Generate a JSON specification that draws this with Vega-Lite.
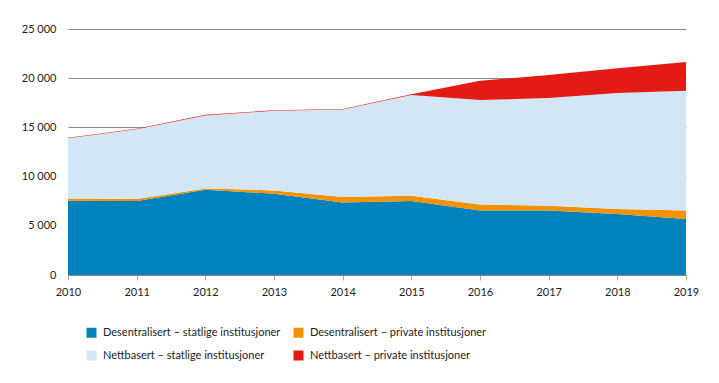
{
  "$schema": "https://vega.github.io/schema/vega-lite/v6.json",
  "width": 618,
  "height": 246,
  "autosize": {"type": "none"},
  "padding": {"left": 68, "top": 29, "right": 33, "bottom": 108},
  "config": {
    "view": {"stroke": null},
    "font": "Lato",
    "axis": {"labelFont": "Lato", "labelFontSize": 11, "labelColor": "#222", "titleFontSize": 11},
    "legend": {"labelFont": "Lato", "labelFontSize": 11, "labelColor": "#222"}
  },
  "data": {
    "values": [
      {"year": 2010, "series": "Desentralisert – statlige institusjoner", "o": 1, "value": 7550},
      {"year": 2010, "series": "Desentralisert – private institusjoner", "o": 2, "value": 230},
      {"year": 2010, "series": "Nettbasert – statlige institusjoner", "o": 3, "value": 6120},
      {"year": 2010, "series": "Nettbasert – private institusjoner", "o": 4, "value": 50},
      {"year": 2011, "series": "Desentralisert – statlige institusjoner", "o": 1, "value": 7520},
      {"year": 2011, "series": "Desentralisert – private institusjoner", "o": 2, "value": 200},
      {"year": 2011, "series": "Nettbasert – statlige institusjoner", "o": 3, "value": 7080},
      {"year": 2011, "series": "Nettbasert – private institusjoner", "o": 4, "value": 60},
      {"year": 2012, "series": "Desentralisert – statlige institusjoner", "o": 1, "value": 8670},
      {"year": 2012, "series": "Desentralisert – private institusjoner", "o": 2, "value": 130},
      {"year": 2012, "series": "Nettbasert – statlige institusjoner", "o": 3, "value": 7420},
      {"year": 2012, "series": "Nettbasert – private institusjoner", "o": 4, "value": 60},
      {"year": 2013, "series": "Desentralisert – statlige institusjoner", "o": 1, "value": 8260},
      {"year": 2013, "series": "Desentralisert – private institusjoner", "o": 2, "value": 340},
      {"year": 2013, "series": "Nettbasert – statlige institusjoner", "o": 3, "value": 8080},
      {"year": 2013, "series": "Nettbasert – private institusjoner", "o": 4, "value": 60},
      {"year": 2014, "series": "Desentralisert – statlige institusjoner", "o": 1, "value": 7380},
      {"year": 2014, "series": "Desentralisert – private institusjoner", "o": 2, "value": 540},
      {"year": 2014, "series": "Nettbasert – statlige institusjoner", "o": 3, "value": 8900},
      {"year": 2014, "series": "Nettbasert – private institusjoner", "o": 4, "value": 60},
      {"year": 2015, "series": "Desentralisert – statlige institusjoner", "o": 1, "value": 7520},
      {"year": 2015, "series": "Desentralisert – private institusjoner", "o": 2, "value": 540},
      {"year": 2015, "series": "Nettbasert – statlige institusjoner", "o": 3, "value": 10240},
      {"year": 2015, "series": "Nettbasert – private institusjoner", "o": 4, "value": 60},
      {"year": 2016, "series": "Desentralisert – statlige institusjoner", "o": 1, "value": 6560},
      {"year": 2016, "series": "Desentralisert – private institusjoner", "o": 2, "value": 610},
      {"year": 2016, "series": "Nettbasert – statlige institusjoner", "o": 3, "value": 10610},
      {"year": 2016, "series": "Nettbasert – private institusjoner", "o": 4, "value": 1960},
      {"year": 2017, "series": "Desentralisert – statlige institusjoner", "o": 1, "value": 6560},
      {"year": 2017, "series": "Desentralisert – private institusjoner", "o": 2, "value": 480},
      {"year": 2017, "series": "Nettbasert – statlige institusjoner", "o": 3, "value": 10940},
      {"year": 2017, "series": "Nettbasert – private institusjoner", "o": 4, "value": 2340},
      {"year": 2018, "series": "Desentralisert – statlige institusjoner", "o": 1, "value": 6200},
      {"year": 2018, "series": "Desentralisert – private institusjoner", "o": 2, "value": 500},
      {"year": 2018, "series": "Nettbasert – statlige institusjoner", "o": 3, "value": 11790},
      {"year": 2018, "series": "Nettbasert – private institusjoner", "o": 4, "value": 2510},
      {"year": 2019, "series": "Desentralisert – statlige institusjoner", "o": 1, "value": 5690},
      {"year": 2019, "series": "Desentralisert – private institusjoner", "o": 2, "value": 870},
      {"year": 2019, "series": "Nettbasert – statlige institusjoner", "o": 3, "value": 12160},
      {"year": 2019, "series": "Nettbasert – private institusjoner", "o": 4, "value": 2920}
    ]
  },
  "mark": {"type": "area", "interpolate": "linear"},
  "encoding": {
    "x": {
      "field": "year", "type": "quantitative",
      "scale": {"domain": [2010, 2019], "nice": false, "zero": false},
      "axis": {
        "title": null, "values": [2010, 2011, 2012, 2013, 2014, 2015, 2016, 2017, 2018, 2019],
        "format": "d", "grid": false, "domainColor": "#888", "tickColor": "#aaa",
        "tickSize": 5, "labelPadding": 6, "labelFlush": false
      }
    },
    "y": {
      "field": "value", "type": "quantitative", "stack": "zero",
      "scale": {"domain": [0, 25000], "nice": false},
      "axis": {
        "title": null, "values": [0, 5000, 10000, 15000, 20000, 25000],
        "labelExpr": "replace(format(datum.value, ',d'), ',', ' ')",
        "domain": false, "ticks": false, "labelPadding": 12,
        "gridColor": "#8c8c8c", "gridWidth": 1, "gridOpacity": 1
      }
    },
    "color": {
      "field": "series", "type": "nominal",
      "scale": {
        "domain": ["Desentralisert – statlige institusjoner", "Desentralisert – private institusjoner", "Nettbasert – statlige institusjoner", "Nettbasert – private institusjoner"],
        "range": ["#0083bc", "#f39200", "#d2e6f6", "#e31b14"]
      },
      "legend": {
        "title": null, "orient": "none", "legendX": 18, "legendY": 298,
        "columns": 2, "direction": "horizontal", "columnPadding": 12, "rowPadding": 11,
        "symbolType": "square", "symbolSize": 100, "symbolStrokeWidth": 0, "symbolOpacity": 1,
        "labelOffset": 6, "labelLimit": 300
      }
    },
    "order": {"field": "o", "type": "quantitative"}
  }
}
